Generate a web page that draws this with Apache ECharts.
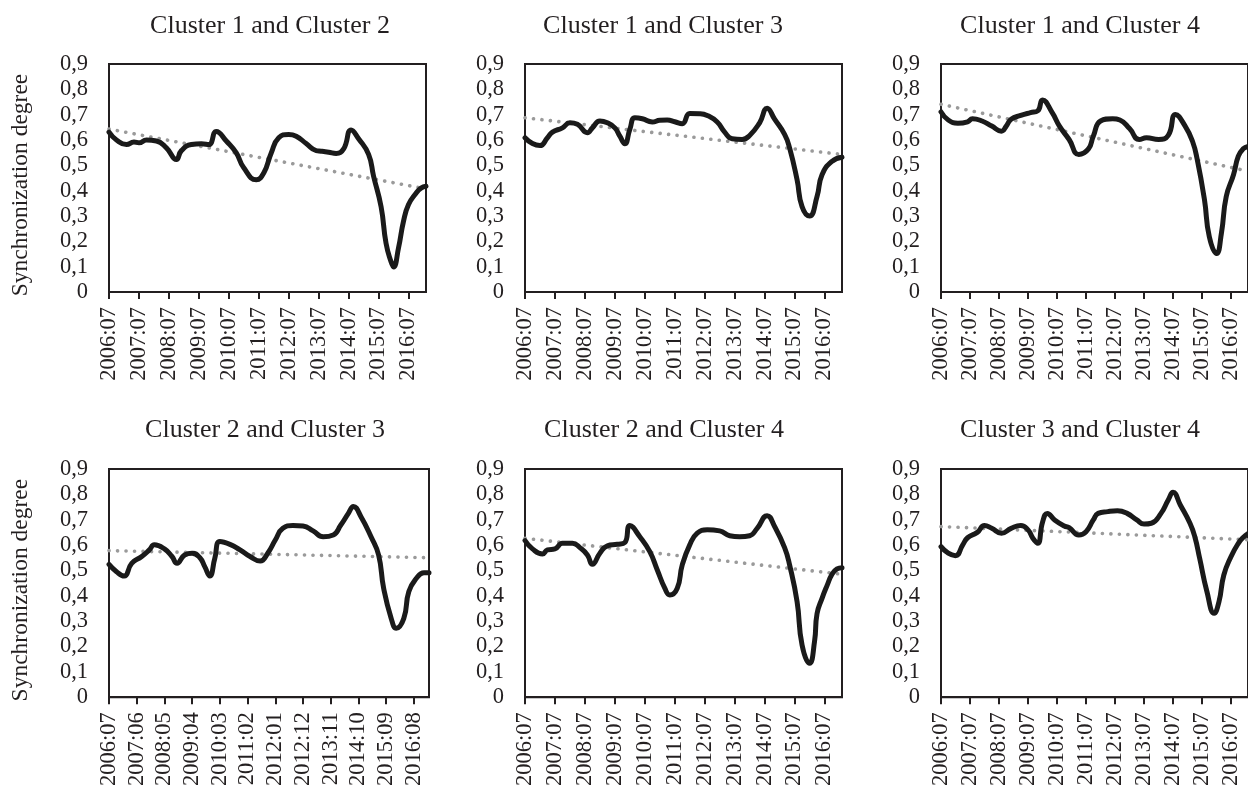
<!DOCTYPE html>
<html><head><meta charset="utf-8">
<script src="https://cdn.jsdelivr.net/npm/echarts@6/dist/echarts.min.js"></script>
<style>html,body{margin:0;padding:0;background:#fff}#c{width:1248px;height:789px}</style>
</head><body><div id="c"></div>
<script>
// Monthly categories 2006:07 .. 2017:02 (128 months)
const months = [];
for (let y = 2006, m = 7; months.length < 128; m++) {
  if (m > 12) { m = 1; y++; }
  months.push(y + ':' + (m < 10 ? '0' + m : '' + m));
}

const titles = ['Cluster 1 and Cluster 2', 'Cluster 1 and Cluster 3', 'Cluster 1 and Cluster 4',
                'Cluster 2 and Cluster 3', 'Cluster 2 and Cluster 4', 'Cluster 3 and Cluster 4'];
const yName = 'Synchronization degree';
const yTicks = [0, 0.1, 0.2, 0.3, 0.4, 0.5, 0.6, 0.7, 0.8, 0.9];

// [month index, synchronization degree]
const c12 = [[0,0.631],[3,0.600],[7,0.582],[10,0.592],[12,0.589],[15,0.600],[19,0.596],[23,0.569],[27,0.523],[29,0.558],[33,0.582],[37,0.585],[40,0.582],[43,0.634],[47,0.596],[51,0.549],[54,0.490],[59,0.443],[62,0.470],[65,0.549],[68,0.609],[72,0.622],[75,0.615],[79,0.586],[83,0.558],[85,0.556],[88,0.552],[91,0.547],[94,0.565],[97,0.639],[100,0.605],[104,0.543],[106,0.457],[109,0.337],[111,0.192],[113,0.119],[114,0.099],[116,0.175],[118,0.280],[120,0.345],[123,0.390],[125,0.410],[127,0.417]];
const c13 = [[0,0.609],[3,0.586],[6,0.578],[9,0.609],[11,0.631],[15,0.648],[18,0.668],[21,0.662],[25,0.629],[27,0.648],[30,0.675],[33,0.668],[36,0.648],[38,0.615],[40,0.585],[42,0.642],[44,0.688],[47,0.684],[51,0.671],[54,0.678],[57,0.679],[60,0.672],[63,0.664],[66,0.705],[70,0.704],[73,0.697],[77,0.671],[80,0.631],[83,0.605],[87,0.602],[90,0.618],[94,0.668],[97,0.725],[100,0.682],[104,0.622],[106,0.569],[109,0.443],[111,0.337],[114,0.300],[117,0.377],[119,0.463],[123,0.516],[127,0.532]];
const c14 = [[0,0.711],[3,0.679],[7,0.666],[11,0.672],[13,0.684],[17,0.675],[21,0.655],[25,0.635],[27,0.655],[29,0.682],[33,0.697],[37,0.708],[40,0.715],[42,0.758],[46,0.708],[49,0.655],[53,0.602],[57,0.543],[61,0.565],[63,0.615],[66,0.675],[71,0.684],[74,0.679],[78,0.645],[82,0.602],[85,0.609],[90,0.602],[94,0.618],[97,0.701],[101,0.655],[104,0.596],[106,0.523],[109,0.364],[111,0.218],[114,0.152],[116,0.232],[118,0.377],[121,0.463],[123,0.536],[125,0.565],[127,0.575]];
const c23 = [[0,0.524],[3,0.495],[6,0.478],[9,0.528],[13,0.555],[16,0.581],[18,0.601],[22,0.585],[25,0.555],[27,0.528],[30,0.561],[33,0.568],[36,0.551],[38,0.515],[40,0.478],[42,0.548],[44,0.614],[48,0.603],[52,0.581],[56,0.555],[60,0.537],[63,0.568],[66,0.620],[69,0.666],[73,0.677],[77,0.675],[81,0.656],[85,0.633],[89,0.640],[92,0.679],[95,0.725],[97,0.752],[100,0.712],[104,0.633],[107,0.561],[109,0.430],[112,0.311],[114,0.272],[117,0.311],[119,0.417],[122,0.469],[125,0.491],[127,0.491]];
const c24 = [[0,0.618],[3,0.585],[7,0.565],[9,0.581],[12,0.585],[15,0.607],[19,0.607],[22,0.590],[25,0.561],[27,0.524],[30,0.568],[33,0.597],[37,0.603],[40,0.610],[42,0.677],[46,0.633],[50,0.574],[53,0.502],[56,0.430],[58,0.403],[61,0.430],[63,0.522],[66,0.601],[69,0.647],[73,0.660],[78,0.656],[82,0.637],[86,0.633],[90,0.637],[93,0.666],[97,0.716],[100,0.673],[104,0.590],[106,0.522],[109,0.377],[111,0.206],[114,0.134],[116,0.220],[117,0.330],[119,0.390],[121,0.440],[123,0.485],[125,0.506],[127,0.511]];
const c34 = [[0,0.594],[3,0.568],[6,0.558],[9,0.601],[11,0.629],[15,0.650],[18,0.677],[21,0.666],[25,0.647],[29,0.666],[33,0.677],[36,0.660],[38,0.627],[40,0.607],[42,0.690],[44,0.725],[47,0.699],[51,0.675],[53,0.669],[57,0.640],[60,0.653],[63,0.699],[65,0.725],[69,0.732],[73,0.735],[77,0.725],[81,0.699],[84,0.683],[87,0.686],[91,0.725],[94,0.778],[96,0.808],[99,0.758],[103,0.686],[105,0.633],[107,0.548],[110,0.417],[113,0.331],[115,0.377],[117,0.482],[120,0.555],[123,0.607],[125,0.630],[127,0.645]];
const curves = [c12, c13, c14, c23, c24, c34];

// Linear trend: value at first month, value at last month
const t12 = [0.643, 0.407];
const t13 = [0.688, 0.543];
const t14 = [0.741, 0.477];
const t23 = [0.578, 0.550];
const t24 = [0.627, 0.485];
const t34 = [0.673, 0.621];
const trends = [t12, t13, t14, t23, t24, t34];

// label step (months between labelled ticks) per panel
const labelSteps = [12, 12, 12, 11, 12, 12];

// ---------- layout / style ----------
const FONT = '"Liberation Serif", "Times New Roman", serif';
const INK = '#231f20';
const lefts = [109, 525, 941, 109, 525, 941];
const widths = [317, 317, 317, 320, 317, 317];
const tops = [64, 64, 64, 469, 469, 469];
const heights = [228, 228, 228, 229, 229, 229];
const titleX = [270, 663, 1080, 265, 664, 1080];
const titleY = [13, 13, 13, 417, 417, 417];

const grid = [], xAxis = [], yAxis = [], series = [], graphic = [];
for (let i = 0; i < 6; i++) {
  grid.push({left: lefts[i], top: tops[i], width: widths[i], height: heights[i],
    show: true, borderColor: INK, borderWidth: 2, backgroundColor: 'transparent'});
  xAxis.push({type: 'category', gridIndex: i, data: months, boundaryGap: false,
    axisLine: {show: true, lineStyle: {color: INK, width: 2}},
    axisTick: {show: true, interval: labelSteps[i] - 1, length: 7, lineStyle: {color: INK, width: 2}},
    axisLabel: {interval: labelSteps[i] - 1, rotate: 90, margin: 15, color: INK,
      fontFamily: FONT, fontSize: 22.5},
    splitLine: {show: false}});
  yAxis.push({type: 'value', gridIndex: i, min: yTicks[0], max: yTicks[yTicks.length - 1], interval: 0.1,
    axisLine: {show: true, lineStyle: {color: INK, width: 2}},
    axisTick: {show: false}, splitLine: {show: false},
    axisLabel: {margin: 21, color: INK, fontFamily: FONT, fontSize: 22.5,
      formatter: v => (Math.abs(v) < 1e-9 ? '0' : v.toFixed(1).replace('.', ','))},
    name: (i % 3 === 0) ? yName : '', nameLocation: 'middle', nameGap: 76, nameRotate: 90,
    nameTextStyle: {color: INK, fontFamily: FONT, fontSize: 23.5, padding: [0, 14, 0, 0]}});
  const tr = trends[i];
  series.push({type: 'line', xAxisIndex: i, yAxisIndex: i, symbol: 'none', silent: true,
    data: [[months[0], tr[0]], [months[months.length - 1], tr[1]]],
    lineStyle: {color: '#9a9a9a', width: 3.6, type: [0.1, 8.4], cap: 'round'}, z: 2});
  series.push({type: 'line', xAxisIndex: i, yAxisIndex: i, symbol: 'none', silent: true,
    smooth: 0.5,
    data: curves[i].map(p => [months[p[0]], p[1]]),
    lineStyle: {color: '#1a1a1a', width: 5, cap: 'round', join: 'round'}, z: 3});
  graphic.push({type: 'text', x: titleX[i], y: titleY[i], silent: true,
    style: {text: titles[i], fill: INK, font: '26px ' + FONT,
      textAlign: 'center', textVerticalAlign: 'top', align: 'center', verticalAlign: 'top'}});
}

const chart = echarts.init(document.getElementById('c'), null, {renderer: 'canvas'});
chart.setOption({animation: false, backgroundColor: '#fff', grid, xAxis, yAxis, series, graphic});
</script></body></html>
